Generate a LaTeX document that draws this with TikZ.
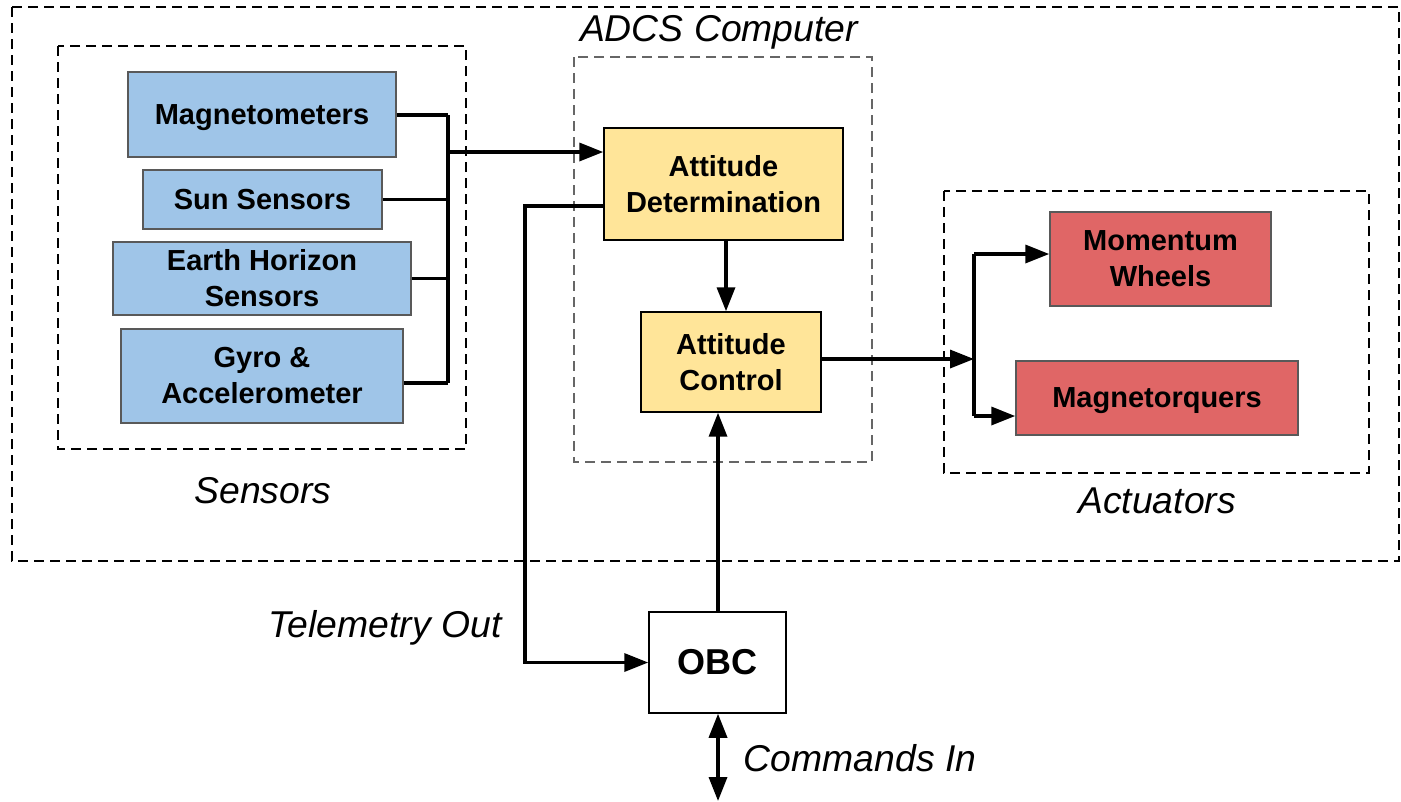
\documentclass[tikz,border=0pt]{standalone}
\usepackage{fontspec}
\setmainfont{Liberation Sans}
\usetikzlibrary{arrows.meta}
\definecolor{sblue}{HTML}{9FC5E8}
\definecolor{syellow}{HTML}{FFE599}
\definecolor{sred}{HTML}{E06666}
\definecolor{bordergray}{HTML}{595959}
\definecolor{dashgray}{HTML}{666666}
\begin{document}
\begin{tikzpicture}[x=0.75pt,y=-0.75pt,
  boxtext/.style={font=\fontsize{21.75pt}{27pt}\selectfont\bfseries, align=center, inner sep=0pt},
  sensorbox/.style={boxtext, draw=bordergray, line width=1.1pt, fill=sblue},
  compbox/.style={boxtext, draw=black, line width=1.1pt, fill=syellow},
  actbox/.style={boxtext, draw=bordergray, line width=1.1pt, fill=sred},
  obcbox/.style={draw=black, line width=1.1pt, fill=white, inner sep=0pt, align=center,
     font=\fontsize{27pt}{32pt}\selectfont\bfseries},
  grouprect/.style={draw=black, line width=1.4pt, dash pattern=on 7.5pt off 4.5pt},
  graygroup/.style={draw=dashgray, line width=1.3pt, dash pattern=on 7.5pt off 4.5pt},
  label/.style={font=\fontsize{28pt}{33pt}\selectfont\itshape, inner sep=0pt, text depth=0pt},
  conn/.style={line width=2.6pt},
  arr/.style={conn, -{Triangle[length=18pt,width=13.5pt]}},
  arrboth/.style={conn, {Triangle[length=18pt,width=13.5pt]}-{Triangle[length=18pt,width=13.5pt]}}
]
\useasboundingbox (0,0) rectangle (1401,801);

% group frames
\draw[grouprect] (12,7) rectangle (1399,561);
\draw[grouprect] (58,46) rectangle (466,449);
\draw[graygroup] (574,57) rectangle (872,462);
\draw[grouprect] (944,191) rectangle (1369,473);

% sensors
\node[sensorbox, text depth=0pt, minimum width=201pt, minimum height=63.75pt] (mag) at (262,114.5) {Magnetometers};
\node[sensorbox, minimum width=179.25pt, minimum height=44.25pt] (sun) at (262.5,199.5) {Sun Sensors};
\node[sensorbox, minimum width=223.5pt, minimum height=54.75pt] (earth) at (262,278.5) {Earth Horizon\\Sensors};
\node[sensorbox, minimum width=211.5pt, minimum height=70.5pt] (gyro) at (262,376) {Gyro \&\\Accelerometer};

% ADCS computer
\node[compbox, minimum width=179.25pt, minimum height=84pt] (ad) at (723.5,184) {Attitude\\Determination};
\node[compbox, minimum width=135pt, minimum height=75pt] (ac) at (731,362) {Attitude\\Control};

% actuators
\node[actbox, minimum width=165.75pt, minimum height=70.5pt] (mw) at (1160.5,259) {Momentum\\Wheels};
\node[actbox, text depth=0pt, minimum width=211.5pt, minimum height=55.5pt] (mq) at (1157,398) {Magnetorquers};

% OBC
\node[obcbox, minimum width=102.75pt, minimum height=75.75pt] (obc) at (717.5,662.5) {OBC};

% labels
\node[label] (lblADCS) at (719,28.5) {ADCS Computer};
\node[label] (lblSens) at (263,490) {Sensors};
\node[label] (lblAct) at (1157,501) {Actuators};
\node[label] (lblTel) at (385,624) {Telemetry Out};
\node[label] (lblCmd) at (860,758) {Commands In};

% coordinates
\coordinate (busTop) at (448,115);
\coordinate (busBot) at (448,383);
\coordinate (busA) at (448,152);
\coordinate (tel) at (525,206);
\coordinate (cx) at (726,0);
\coordinate (cy) at (718,0);
\coordinate (abus) at (974,359);
\coordinate (aTop) at (974,254);
\coordinate (aBot) at (974,416);
\coordinate (cmdEnd) at (718,801);

% sensor bus
\draw[conn] (mag.east |- busTop) -- (busTop);
\draw[conn] (busTop) -- (busBot);
\draw[conn] (sun.east) -- (sun.east -| busTop);
\draw[conn] (earth.east) -- (earth.east -| busTop);
\draw[conn] (gyro.east |- busBot) -- (busBot);
\draw[arr] (busA) -- (busA -| ad.west);

% telemetry
\draw[arr] (ad.west |- tel) -- (tel) |- (obc.west);

% determination -> control
\draw[arr] (ad.south -| cx) -- (ac.north -| cx);

% control -> actuators
\draw[arr] (ac.east |- abus) -- (abus);
\draw[conn] (aTop) -- (aBot);
\draw[arr] (aTop) -- (aTop -| mw.west);
\draw[arr] (aBot) -- (aBot -| mq.west);

% OBC -> control
\draw[arr] (obc.north -| cy) -- (ac.south -| cy);

% commands
\draw[arrboth] (obc.south -| cy) -- (cmdEnd);
\end{tikzpicture}
\end{document}
